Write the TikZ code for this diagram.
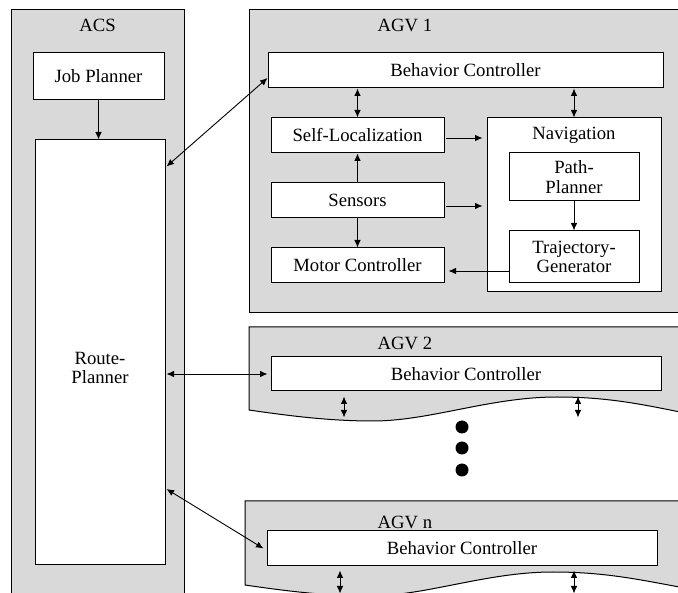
\documentclass[tikz,border=0pt]{standalone}
\usepackage{fontspec}
\setmainfont{Liberation Serif}
\usetikzlibrary{arrows.meta}
\definecolor{grpgray}{RGB}{217,217,217}
\begin{document}
\begin{tikzpicture}[x=1pt,y=-1pt,
  grp/.style={draw=black, fill=grpgray, line width=1pt},
  blk/.style={draw=black, fill=white, line width=1pt, inner sep=0pt, align=center, font=\fontsize{18.7}{19.5}\selectfont},
  lbl/.style={inner sep=0pt, align=center, font=\fontsize{18.7}{19.5}\selectfont},
  arr/.style={-{Latex[length=7.5pt,width=6.5pt]}, line width=0.9pt},
  darr/.style={{Latex[length=7.5pt,width=6.5pt]}-{Latex[length=7.5pt,width=6.5pt]}, line width=0.9pt},
  dot/.style={circle, fill=black, inner sep=0pt, minimum size=13pt}]
\clip (0,0) rectangle (678,593);
% groups
\draw[grp] (11,10) rectangle (184,605);
\draw[grp] (249,10) rectangle (690,313);
\draw[grp] (690,327) -- (249,327) -- (249,410)
  .. controls (290,416) and (330,421) .. (373,421)
  .. controls (430,421) and (490,397) .. (557,397)
  .. controls (610,397) and (645,405) .. (690,414) -- cycle;
\draw[grp] (690,501) -- (245,501) -- (245,585)
  .. controls (286,591) and (326,596) .. (369,596)
  .. controls (426,596) and (486,572) .. (553,572)
  .. controls (606,572) and (641,580) .. (690,589) -- cycle;
% group labels
\node[lbl] (acsl) at (97.5,25) {ACS};
\node[lbl] (agv1l) at (405,25) {AGV 1};
\node[lbl] (agv2l) at (405,343) {AGV 2};
\node[lbl] (agvnl) at (405,522) {AGV n};
% ACS blocks
\node[blk, minimum width=131pt, minimum height=47pt] (jp) at (98.5,76.5) {Job Planner};
\node[blk, minimum width=130pt, minimum height=425pt] (rp) at (100,352.5) {};
\node[lbl] (rpl) at (100,368) {Route-\\Planner};
% AGV 1 blocks
\node[blk, minimum width=395pt, minimum height=35pt] (bc1) at (465.5,70.5) {Behavior Controller};
\node[blk, minimum width=173pt, minimum height=35pt] (sl) at (357.5,135.5) {Self-Localization};
\node[blk, minimum width=173pt, minimum height=35pt] (se) at (357.5,200.5) {Sensors};
\node[blk, minimum width=173pt, minimum height=35pt] (mc) at (357.5,265.5) {Motor Controller};
\node[blk, minimum width=174pt, minimum height=174pt] (nav) at (574,205) {};
\node[lbl] (navl) at (574,135) {Navigation};
\node[blk, minimum width=130pt, minimum height=48pt] (pp) at (574,177) {Path-\\Planner};
\node[blk, minimum width=130pt, minimum height=52pt] (tg) at (574,257) {Trajectory-\\Generator};
% AGV 2 / n blocks
\node[blk, minimum width=390pt, minimum height=34pt] (bc2) at (466,374) {Behavior Controller};
\node[blk, minimum width=390pt, minimum height=35pt] (bcn) at (462,548.5) {Behavior Controller};
% dots
\node[dot] (d1) at (462,427) {};
\node[dot] (d2) at (462,448) {};
\node[dot] (d3) at (462,470) {};
% helper coordinates
\coordinate (slo) at ([xshift=1pt,yshift=-2.5pt]sl.east);
\coordinate (seo) at ([xshift=1pt,yshift=-5.5pt]se.east);
\coordinate (tgo) at ([yshift=-14pt]tg.west);
% connectors
\draw[arr] (jp.south) -- (jp.south |- rp.north);
\draw[darr] ([xshift=1pt,yshift=-27pt]rp.north east) -- ([yshift=-7.5pt]bc1.west);
\draw[darr] ([xshift=1pt]rp.east |- bc2.west) -- ([xshift=-3pt]bc2.west);
\draw[darr] ([xshift=1pt,yshift=-136.5pt]rp.east) -- ([xshift=-3pt]bcn.west);
\draw[darr] (bc1.south -| sl.north) -- (sl.north);
\draw[darr] (bc1.south -| nav.north) -- (nav.north);
\draw[arr] (se.north) -- (sl.south);
\draw[arr] (se.south) -- (mc.north);
\draw[arr, shorten >=4pt] (slo) -- (nav.west |- slo);
\draw[arr, shorten >=4pt] (seo) -- (nav.west |- seo);
\draw[arr, shorten >=4pt] (tgo) -- (mc.east |- tgo);
\draw[arr] (pp.south) -- (tg.north);
\draw[darr] ([xshift=-122pt,yshift=-5pt]bc2.south) -- ([xshift=-122pt,yshift=-26pt]bc2.south);
\draw[darr] ([xshift=112pt,yshift=-5pt]bc2.south) -- ([xshift=112pt,yshift=-26pt]bc2.south);
\draw[darr] ([xshift=-122pt,yshift=-4pt]bcn.south) -- ([xshift=-122pt,yshift=-27pt]bcn.south);
\draw[darr] ([xshift=112pt,yshift=-4pt]bcn.south) -- ([xshift=112pt,yshift=-27pt]bcn.south);
\end{tikzpicture}
\end{document}
